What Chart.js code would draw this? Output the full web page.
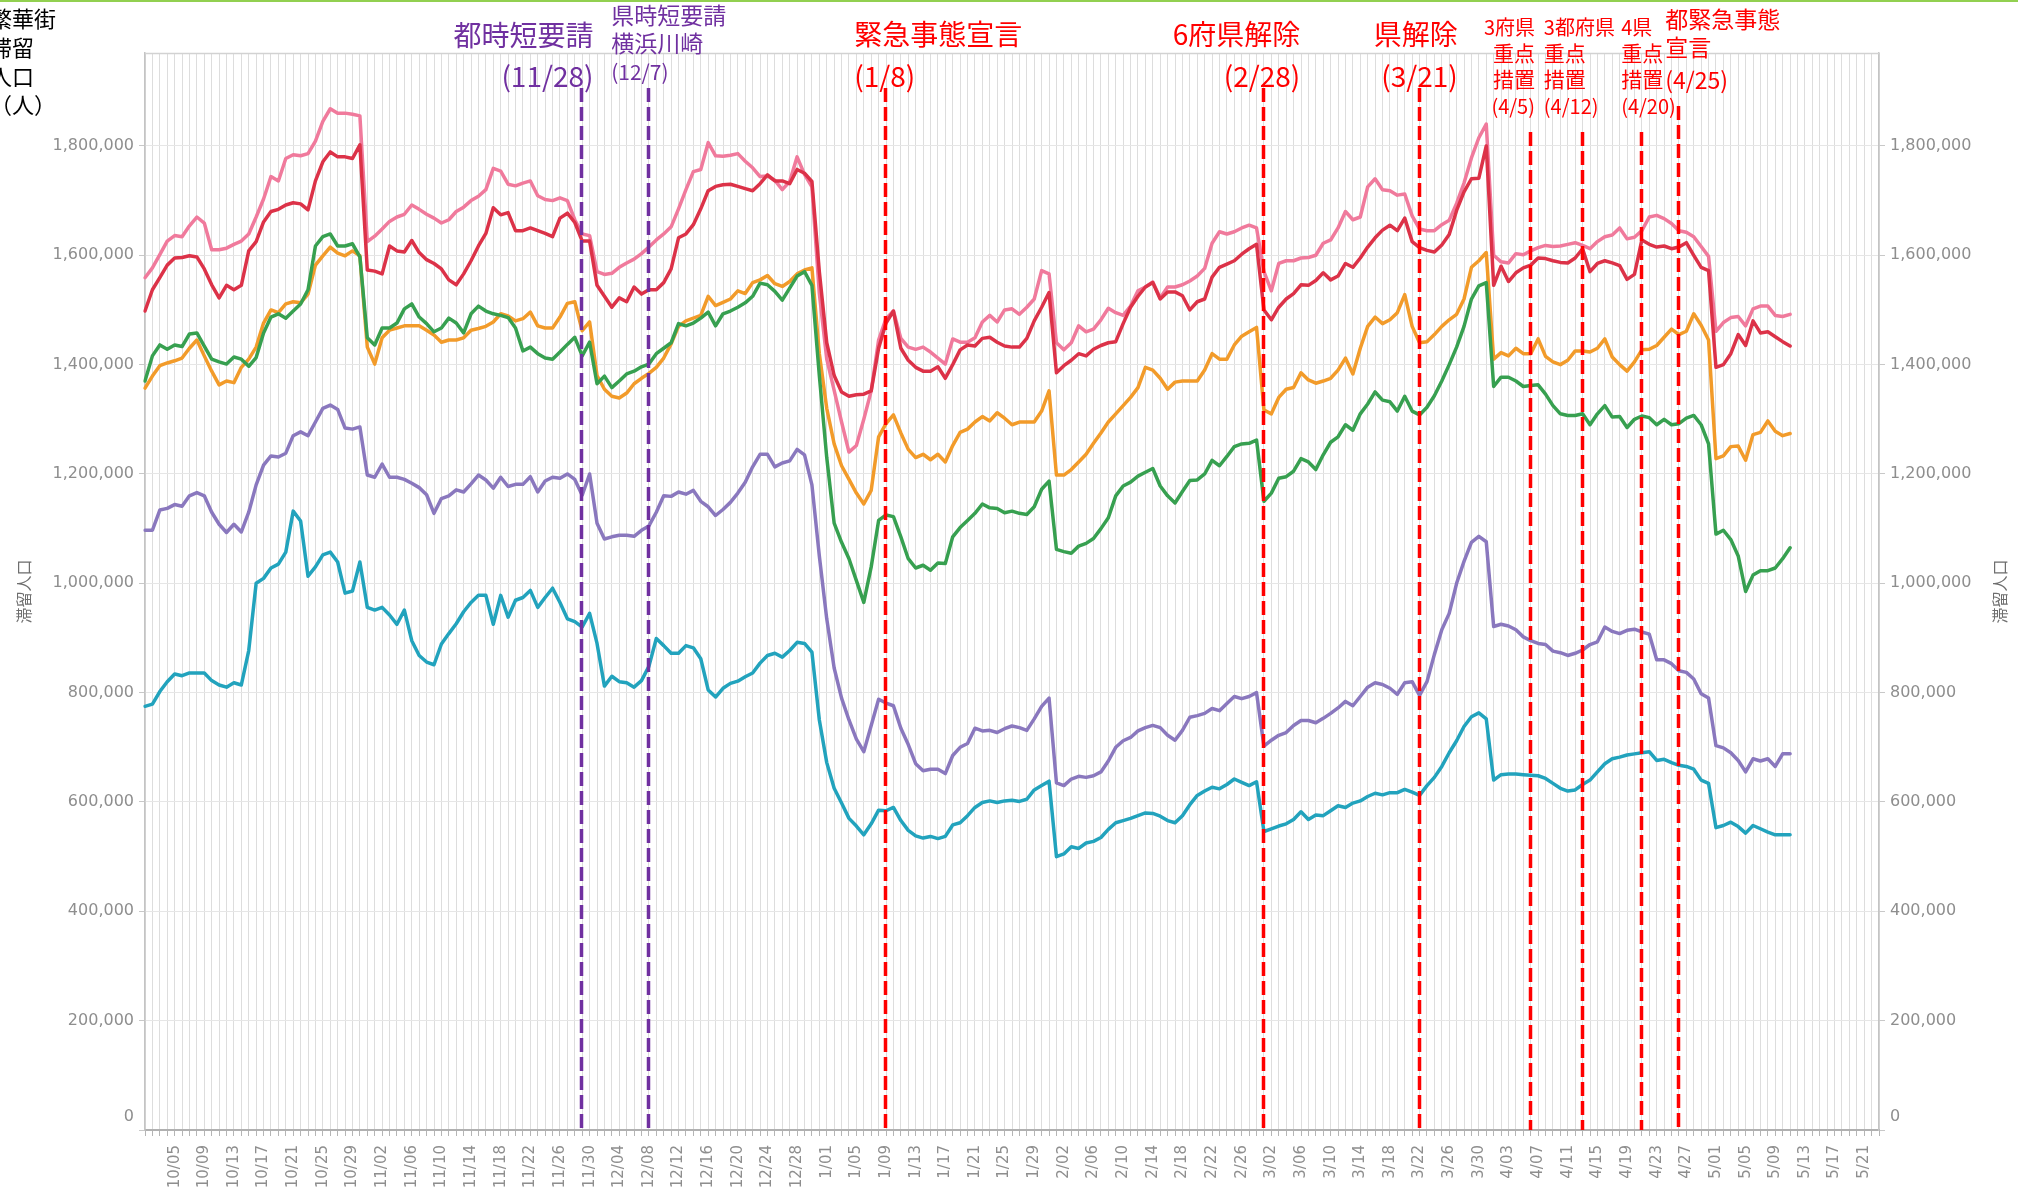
<!DOCTYPE html>
<html>
<head>
<meta charset="utf-8">
<script src="https://cdn.jsdelivr.net/npm/chart.js@4.4.1/dist/chart.umd.min.js"></script>
<style>
html,body{margin:0;padding:0;background:#fff;}
canvas{display:block;}
</style>
</head>
<body>
<canvas id="c" width="2018" height="1194" style="width:2018px;height:1194px"></canvas>
<script>
// ---------- categories (daily, 10/01 .. 5/23) ----------
const monthOrder = [10, 11, 12, 1, 2, 3, 4, 5];
const monthDays  = [31, 30, 31, 31, 28, 31, 30, 23];
const categories = [];
monthOrder.forEach((m, i) => {
  for (let d = 1; d <= monthDays[i]; d++) categories.push(m + '/' + String(d).padStart(2, '0'));
});

// ---------- tick labels ----------
const tickLabels = ['10/05','10/09','10/13','10/17','10/21','10/25','10/29','11/02','11/06','11/10','11/14','11/18','11/22','11/26','11/30',
  '12/04','12/08','12/12','12/16','12/20','12/24','12/28','1/01','1/05','1/09','1/13','1/17','1/21','1/25','1/29',
  '2/02','2/06','2/10','2/14','2/18','2/22','2/26','3/02','3/06','3/10','3/14','3/18','3/22','3/26','3/30',
  '4/03','4/07','4/11','4/15','4/19','4/23','4/27','5/01','5/05','5/09','5/13','5/17','5/21'];
const yTickValues = [0, 200, 400, 600, 800, 1000, 1200, 1400, 1600, 1800]; // thousand persons
const yMax = 1970;

// ---------- series (thousand persons, 10/01 .. 5/11) ----------
const seriesPink = [
  1559,1577,1601,1626,1636,1634,1654,1670,1659,1610,1610,1613,1620,1626,1639,1670,1703,1744,1736,1777,1784,1782,1786,1809,1845,1868,1860,1860,1858,1855,1625,
  1635,1648,1662,1670,1675,1692,1684,1675,1668,1659,1665,1680,1688,1700,1708,1720,1759,1754,1730,1727,1732,1736,1709,1702,1700,1705,1700,1665,1639,1636,
  1570,1565,1567,1578,1586,1593,1603,1615,1628,1639,1652,1685,1720,1753,1757,1806,1782,1781,1783,1786,1772,1760,1744,1745,1737,1720,1735,1780,1748,1725,1530,
  1410,1353,1295,1240,1252,1300,1352,1445,1484,1498,1448,1432,1428,1432,1423,1412,1401,1447,1441,1441,1449,1478,1490,1478,1500,1502,1492,1505,1520,1572,1566,
  1440,1427,1440,1471,1460,1465,1482,1503,1495,1490,1507,1535,1542,1551,1522,1542,1542,1546,1553,1562,1576,1622,1643,1639,1643,1650,1655,1650,
  1570,1535,1585,1590,1590,1595,1596,1600,1622,1628,1650,1680,1665,1670,1725,1740,1720,1718,1710,1712,1672,1648,1645,1645,1656,1664,1695,1732,1778,1815,1840,
  1600,1588,1586,1603,1601,1608,1614,1618,1616,1617,1620,1623,1618,1612,1625,1634,1637,1650,1630,1633,1645,1670,1673,1667,1658,1645,1642,1634,1616,1598,
  1461,1477,1486,1488,1471,1502,1507,1507,1490,1488,1492
];
const seriesRed = [
  1498,1537,1559,1582,1595,1596,1599,1597,1575,1546,1522,1545,1537,1545,1608,1625,1661,1680,1684,1692,1696,1694,1683,1736,1771,1789,1780,1780,1777,1802,1573,
  1571,1566,1617,1608,1606,1627,1605,1592,1585,1575,1555,1546,1566,1590,1617,1640,1687,1674,1678,1645,1645,1650,1645,1640,1634,1668,1677,1660,1626,1626,
  1545,1525,1505,1522,1515,1542,1529,1537,1537,1550,1575,1632,1639,1656,1685,1718,1726,1729,1730,1726,1722,1718,1731,1747,1736,1736,1731,1757,1750,1735,1570,
  1440,1380,1350,1342,1345,1346,1352,1430,1476,1498,1430,1408,1395,1388,1388,1396,1375,1400,1427,1436,1434,1448,1450,1441,1434,1432,1432,1448,1480,1505,1532,
  1385,1398,1408,1420,1416,1428,1435,1440,1442,1475,1505,1525,1542,1550,1520,1533,1533,1526,1500,1515,1520,1560,1578,1584,1590,1602,1612,1620,
  1500,1482,1505,1520,1530,1546,1545,1554,1568,1555,1562,1585,1578,1595,1615,1632,1646,1655,1645,1668,1625,1614,1609,1606,1619,1638,1682,1716,1740,1741,1800,
  1545,1580,1552,1568,1577,1582,1595,1594,1590,1587,1586,1595,1612,1570,1585,1590,1586,1581,1556,1565,1628,1620,1615,1617,1612,1615,1623,1600,1578,1572,
  1395,1400,1420,1455,1435,1480,1458,1460,1451,1442,1434
];
const seriesOrange = [
  1357,1379,1398,1403,1407,1412,1430,1445,1416,1388,1363,1370,1367,1395,1410,1432,1476,1500,1495,1511,1515,1513,1529,1582,1599,1615,1604,1599,1608,1599,1432,
  1401,1449,1463,1467,1471,1471,1471,1463,1454,1441,1445,1445,1449,1463,1466,1470,1478,1493,1489,1480,1484,1496,1471,1467,1467,1487,1512,1515,1462,1478,
  1380,1355,1342,1339,1348,1365,1375,1384,1395,1412,1438,1470,1480,1485,1490,1525,1508,1514,1520,1535,1530,1550,1555,1563,1548,1543,1552,1566,1573,1577,1420,
  1320,1255,1215,1190,1165,1145,1170,1268,1292,1308,1275,1245,1230,1236,1226,1236,1222,1252,1276,1282,1295,1305,1297,1312,1302,1290,1295,1295,1295,1315,1352,
  1198,1198,1208,1222,1236,1256,1275,1295,1310,1325,1340,1358,1395,1390,1375,1355,1368,1370,1370,1370,1390,1420,1410,1410,1436,1452,1460,1468,
  1317,1310,1340,1355,1358,1385,1372,1366,1370,1375,1390,1412,1383,1430,1470,1487,1475,1482,1495,1528,1470,1440,1442,1455,1470,1482,1492,1520,1578,1590,1605,
  1410,1422,1416,1430,1420,1420,1447,1415,1405,1400,1408,1425,1425,1423,1430,1447,1414,1400,1388,1405,1427,1428,1435,1450,1465,1455,1461,1493,1472,1445,
  1228,1233,1250,1251,1225,1272,1276,1297,1278,1270,1274
];
const seriesGreen = [
  1370,1416,1436,1428,1436,1433,1456,1458,1434,1410,1405,1401,1414,1410,1397,1413,1458,1487,1493,1485,1498,1511,1537,1617,1634,1639,1617,1617,1621,1597,1449,
  1436,1467,1467,1476,1502,1511,1487,1475,1460,1467,1485,1476,1458,1493,1507,1498,1493,1490,1486,1467,1425,1432,1420,1412,1410,1423,1437,1450,1416,1441,
  1365,1379,1358,1370,1383,1388,1396,1401,1420,1430,1440,1475,1471,1476,1485,1496,1471,1493,1498,1505,1513,1525,1549,1546,1534,1518,1540,1562,1570,1545,1380,
  1230,1110,1075,1045,1005,965,1030,1115,1125,1122,1085,1045,1028,1033,1024,1037,1036,1085,1102,1115,1128,1145,1138,1137,1129,1132,1128,1126,1140,1172,1187,
  1062,1058,1055,1068,1073,1082,1100,1120,1160,1178,1185,1196,1203,1210,1178,1160,1147,1168,1188,1189,1200,1225,1215,1232,1250,1255,1256,1262,
  1150,1165,1192,1195,1205,1228,1222,1208,1235,1258,1268,1290,1280,1310,1328,1350,1335,1332,1315,1342,1315,1308,1322,1343,1370,1400,1432,1470,1520,1544,1550,
  1360,1377,1377,1370,1360,1362,1363,1346,1325,1310,1307,1307,1310,1290,1310,1325,1304,1305,1285,1300,1306,1303,1290,1300,1290,1292,1302,1307,1290,1255,
  1090,1097,1080,1050,985,1015,1023,1023,1028,1045,1065
];
const seriesPurple = [
  1097,1097,1134,1137,1144,1141,1160,1166,1160,1130,1108,1093,1108,1094,1130,1180,1216,1233,1231,1238,1270,1277,1270,1295,1320,1326,1318,1284,1282,1286,1198,
  1194,1218,1194,1194,1190,1183,1175,1162,1128,1155,1160,1171,1167,1182,1198,1189,1174,1194,1177,1181,1181,1195,1167,1187,1194,1192,1200,1190,1161,1200,
  1110,1081,1085,1088,1088,1086,1097,1105,1130,1160,1159,1167,1163,1170,1150,1140,1124,1135,1148,1165,1185,1213,1236,1236,1213,1220,1224,1245,1235,1180,1050,
  935,845,790,750,715,692,740,788,781,776,735,705,670,657,660,660,652,685,700,707,735,730,731,727,734,739,736,731,752,775,790,
  635,630,642,647,645,648,655,675,700,712,718,730,736,740,736,722,713,731,755,758,762,771,767,780,793,789,793,800,
  702,713,722,727,740,749,749,745,753,762,772,784,776,793,810,818,815,808,797,818,820,795,820,870,915,945,1000,1040,1075,1086,1076,
  921,925,922,915,902,895,890,888,876,873,868,872,878,888,893,920,912,908,914,916,911,907,860,860,853,840,837,825,798,790,
  703,699,690,676,655,679,675,679,665,688,688
];
const seriesTeal = [
  775,779,802,820,834,831,836,836,836,822,814,810,818,814,877,1000,1009,1028,1035,1057,1132,1114,1013,1030,1052,1057,1039,982,986,1039,956,
  951,956,942,925,951,895,868,856,851,889,908,926,948,965,978,978,925,978,938,969,974,987,956,974,991,965,935,930,920,945,
  890,812,830,820,818,810,822,848,899,886,872,872,886,882,862,805,792,808,817,821,829,836,854,868,872,865,877,892,890,874,750,
  672,625,598,570,556,540,560,585,584,590,566,548,538,534,537,533,537,558,562,575,590,599,602,599,602,603,601,605,622,630,638,
  500,505,518,515,525,528,535,550,562,566,570,575,580,579,574,566,562,575,595,612,620,627,624,632,642,636,630,637,
  546,551,556,560,568,582,568,576,575,584,593,590,598,602,610,616,613,617,617,623,618,612,630,645,665,690,712,738,756,763,752,
  640,650,651,651,650,649,648,643,634,625,620,622,632,640,655,670,679,682,686,688,690,692,676,678,672,667,665,660,640,634,
  553,557,563,555,543,557,551,545,540,540,540
];

// ---------- events ----------
const eventDates = ['11/28', '12/07', '1/08', '2/28', '3/21', '4/05', '4/12', '4/20', '4/25'];
const eventTexts = [
  ['都時短要請', '(11/28)'],
  ['県時短要請', '横浜川崎', '(12/7)'],
  ['緊急事態宣言', '(1/8)'],
  ['6府県解除', '(2/28)'],
  ['県解除', '(3/21)'],
  ['3府県', '重点', '措置', '(4/5)'],
  ['3都府県', '重点', '措置', '(4/12)'],
  ['4県', '重点', '措置', '(4/20)'],
  ['都緊急事態', '宣言', '(4/25)']
];
const eventKinds = ['purple', 'purple', 'red', 'red', 'red', 'red', 'red', 'red', 'red'];

const yTitle = '滞留人口';
const cornerTitle = ['繁華街', '滞留', '人口', '（人）'];

// ---------- styles ----------
const kindColor = { purple: '#7030a0', red: '#ff0000' };
const eventLayout = [
  { sizes: [28, 28], ys: [35, 76], align: 'right', dx: 12, top: 88 },
  { sizes: [23, 23, 21], ys: [15, 43, 72], align: 'left', dx: -37, top: 88 },
  { sizes: [28, 28], ys: [34, 76], align: 'left', dx: -31, top: 88 },
  { sizes: [28, 28], ys: [34, 76], align: 'right', dx: 37, top: 88 },
  { sizes: [28, 28], ys: [34, 76], align: 'right', dx: 39, top: 88 },
  { sizes: [20, 21, 21, 20], ys: [27, 53, 79, 106], align: 'right', dx: 5, top: 132 },
  { sizes: [20, 21, 21, 20], ys: [27, 53, 79, 106], align: 'left', dx: -38, top: 132 },
  { sizes: [20, 21, 21, 20], ys: [27, 53, 79, 106], align: 'left', dx: -20, top: 132 },
  { sizes: [23, 23, 23], ys: [19, 47, 80], align: 'left', dx: -13, top: 106 }
];
const LINE_FRACTION = 0.9;
const CJK = '"Noto Sans CJK JP", "Noto Sans CJK SC", sans-serif';
const TICK_FONT = 'DejaVu Sans';
const TICK_COLOR = '#8e8e8e';

const decor = {
  id: 'decor',
  beforeDraw(chart) {
    const c = chart.ctx;
    c.save();
    c.fillStyle = '#ffffff';
    c.fillRect(0, 0, chart.width, chart.height);
    c.restore();
  },
  afterDatasetsDraw(chart) {
    const c = chart.ctx;
    const xs = chart.scales.x;
    const area = chart.chartArea;
    c.save();
    eventDates.forEach((d, i) => {
      const idx = categories.indexOf(d);
      const x = Math.round(xs.getPixelForValue(idx + LINE_FRACTION)) + 0.5;
      c.strokeStyle = kindColor[eventKinds[i]];
      c.lineWidth = 3.5;
      c.setLineDash([14, 5]);
      c.beginPath();
      c.moveTo(x, eventLayout[i].top);
      c.lineTo(x, area.bottom);
      c.stroke();
    });
    c.restore();
  },
  afterDraw(chart) {
    const c = chart.ctx;
    const xs = chart.scales.x;
    const area = chart.chartArea;
    c.save();
    // top green strip
    c.fillStyle = '#92d050';
    c.fillRect(0, 0, chart.width, 2);
    // top border of plot
    c.strokeStyle = '#d2d2d2';
    c.lineWidth = 1.5;
    c.beginPath();
    c.moveTo(area.left, area.top + 0.5);
    c.lineTo(area.right, area.top + 0.5);
    c.stroke();
    // zero labels (sit slightly above the baseline, as in the original)
    c.fillStyle = TICK_COLOR;
    c.font = '16px "' + TICK_FONT + '"';
    c.textBaseline = 'middle';
    c.textAlign = 'right';
    c.fillText('0', area.left - 11, area.bottom - 13);
    c.textAlign = 'left';
    c.fillText('0', area.right + 11, area.bottom - 13);
    // event texts
    eventDates.forEach((d, i) => {
      const idx = categories.indexOf(d);
      const x = xs.getPixelForValue(idx + LINE_FRACTION);
      const L = eventLayout[i];
      c.fillStyle = kindColor[eventKinds[i]];
      c.textAlign = L.align;
      eventTexts[i].forEach((t, j) => {
        c.font = L.sizes[j] + 'px ' + CJK;
        c.fillText(t, x + L.dx, L.ys[j]);
      });
    });
    // corner title
    c.fillStyle = '#000000';
    c.textAlign = 'left';
    c.font = '22px ' + CJK;
    const cy = [19, 48, 77, 105];
    cornerTitle.forEach((t, j) => c.fillText(t, -10, cy[j]));
    // axis titles (both rotated counter-clockwise)
    c.fillStyle = '#6e6e6e';
    c.font = '16px ' + CJK;
    c.textAlign = 'center';
    const midY = (area.top + area.bottom) / 2;
    [[24, midY], [2000, midY]].forEach(([px, py]) => {
      c.save();
      c.translate(px, py);
      c.rotate(-Math.PI / 2);
      c.fillText(yTitle, 0, 0);
      c.restore();
    });
    c.restore();
  }
};

function ds(values, color) {
  return {
    data: values,
    borderColor: color,
    backgroundColor: color,
    borderWidth: 3.5,
    pointRadius: 0,
    tension: 0,
    fill: false,
    borderJoinStyle: 'round',
    borderCapStyle: 'round'
  };
}

const yTickCommon = {
  color: TICK_COLOR,
  font: { family: TICK_FONT, size: 16 },
  padding: 5,
  callback: v => v === 0 ? '' : (v * 1000).toLocaleString('en-US')
};

new Chart(document.getElementById('c'), {
  type: 'line',
  data: {
    labels: categories,
    datasets: [
      ds(seriesRed, '#dc3248'),
      ds(seriesPink, '#f07a9c'),
      ds(seriesGreen, '#37a050'),
      ds(seriesOrange, '#f29b2a'),
      ds(seriesPurple, '#8a78be'),
      ds(seriesTeal, '#22a3bd')
    ]
  },
  options: {
    responsive: false,
    animation: false,
    devicePixelRatio: 1,
    layout: { padding: { top: 53, left: 0, right: 0, bottom: 0 } },
    plugins: { legend: { display: false }, tooltip: { enabled: false } },
    scales: {
      x: {
        type: 'category',
        offset: false,
        grid: { color: '#dddddd', lineWidth: 1, drawTicks: true, tickLength: 6, tickColor: '#b5b5b5' },
        border: { color: '#b0b0b0', width: 2 },
        ticks: {
          autoSkip: false, maxRotation: 90, minRotation: 90, padding: 9,
          color: TICK_COLOR, font: { family: TICK_FONT, size: 15 },
          callback: (v, i) => tickLabels.includes(categories[i]) ? categories[i] : ''
        },
        afterFit: s => { s.height = 64; }
      },
      y: {
        type: 'linear', position: 'left', min: 0, max: yMax,
        grid: { color: '#e6e6e6', lineWidth: 1, tickLength: 6, tickColor: '#c8c8c8' },
        border: { color: '#c4c4c4', width: 1.5 },
        ticks: yTickCommon,
        afterBuildTicks: s => { s.ticks = yTickValues.map(v => ({ value: v })); },
        afterFit: s => { s.width = 145; }
      },
      y2: {
        type: 'linear', position: 'right', min: 0, max: yMax,
        grid: { drawOnChartArea: false, tickLength: 6, tickColor: '#c8c8c8' },
        border: { color: '#c4c4c4', width: 1.5 },
        ticks: yTickCommon,
        afterBuildTicks: s => { s.ticks = yTickValues.map(v => ({ value: v })); },
        afterFit: s => { s.width = 139; }
      }
    }
  },
  plugins: [decor]
});
</script>
</body>
</html>
